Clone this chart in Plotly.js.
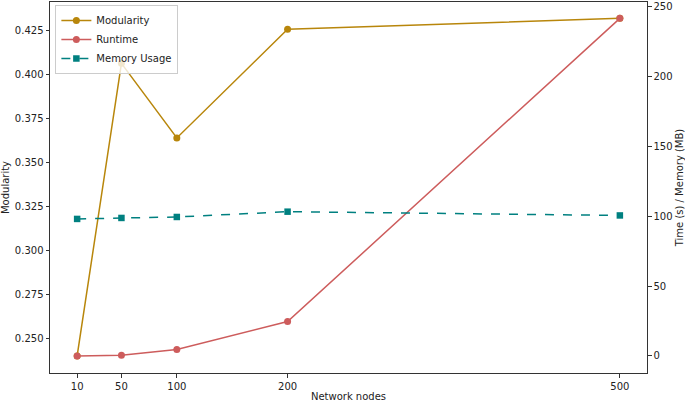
<!DOCTYPE html>
<html>
<head>
<meta charset="utf-8">
<script src="https://cdn.plot.ly/plotly-3.0.1.min.js"></script>
<style>html,body{margin:0;padding:0;background:#fff;}#chart{width:685px;height:402px;}</style>
</head>
<body>
<div id="chart"></div>
<script>
const nodes = [10, 50, 100, 200, 500];
const modularity = [0.2398, 0.4062, 0.3638, 0.4256, 0.4318];
const runtime = [0.0, 0.5, 4.6, 24.6, 241.7];
const memory = [98.1, 98.8, 99.5, 103.3, 100.6];
const xTicks = [10, 50, 100, 200, 500];
const leftTicks = [0.250, 0.275, 0.300, 0.325, 0.350, 0.375, 0.400, 0.425];
const rightTicks = [0, 50, 100, 150, 200, 250];

const font = {family: 'DejaVu Sans', size: 10, color: '#222'};
const traces = [
  {x: nodes, y: modularity, name: 'Modularity', mode: 'lines+markers', yaxis: 'y',
   line: {color: '#b8860b', width: 1.5}, marker: {color: '#b8860b', size: 7, symbol: 'circle'}},
  {x: nodes, y: runtime, name: 'Runtime', mode: 'lines+markers', yaxis: 'y2',
   line: {color: '#cd5c5c', width: 1.5}, marker: {color: '#cd5c5c', size: 7, symbol: 'circle'}},
  {x: nodes, y: memory, name: 'Memory Usage', mode: 'lines+markers', yaxis: 'y2',
   line: {color: '#008080', width: 1.5, dash: 'dash'}, marker: {color: '#008080', size: 6.5, symbol: 'square'}}
];
const axBase = {showgrid: false, zeroline: false, showline: true, linecolor: '#333', linewidth: 1,
  ticks: 'outside', ticklen: 3.5, tickcolor: '#333', tickfont: font, automargin: false};
const layout = {
  width: 685, height: 402,
  margin: {l: 50, r: 38, t: 2, b: 29},
  paper_bgcolor: '#fff', plot_bgcolor: '#fff',
  font: font,
  showlegend: true,
  legend: {x: 0.009, y: 0.992, xanchor: 'left', yanchor: 'top', bgcolor: 'rgba(255,255,255,0.8)',
    bordercolor: '#ccc', borderwidth: 1, font: {family: 'DejaVu Sans', size: 10, color: '#222'},
    tracegroupgap: 0, itemwidth: 30},
  xaxis: Object.assign({}, axBase, {range: [-14.5, 524.5], tickvals: xTicks, ticktext: xTicks.map(String),
    mirror: true, title: {text: 'Network nodes', font: font, standoff: 4}}),
  yaxis: Object.assign({}, axBase, {range: [0.2301, 0.4411], tickvals: leftTicks,
    ticktext: leftTicks.map(v => v.toFixed(3)),
    title: {text: 'Modularity', font: font, standoff: 8}}),
  yaxis2: Object.assign({}, axBase, {overlaying: 'y', side: 'right', range: [-12.2, 253.4],
    tickvals: rightTicks, ticktext: rightTicks.map(String),
    title: {text: 'Time (s) / Memory (MB)', font: font, standoff: 8}})
};
Plotly.newPlot('chart', traces, layout, {displayModeBar: false, staticPlot: true});
</script>
</body>
</html>
